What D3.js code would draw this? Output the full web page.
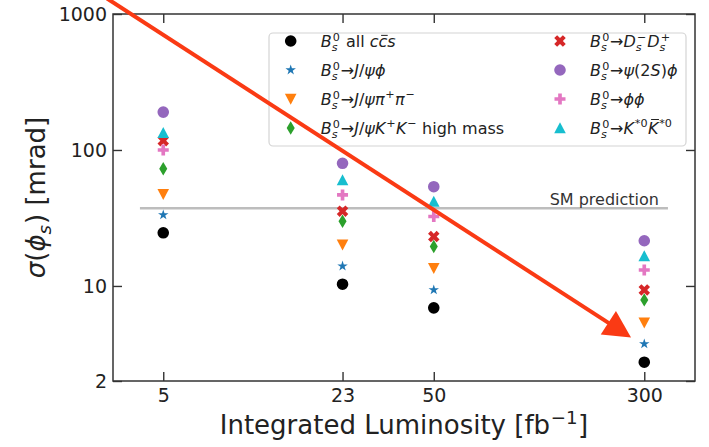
<!DOCTYPE html>
<html><head><meta charset="utf-8">
<script src="https://cdn.jsdelivr.net/npm/d3@7"></script>
<style>
body{margin:0;background:#fff}
svg{display:block;font-family:"DejaVu Sans",sans-serif}
svg text{white-space:pre}
</style>
</head><body>
<svg id="chart" width="709" height="447"></svg>
<script>
// ---------------- data ----------------
const luminosity = [5, 23, 50, 300];
const xTickLabels = ["5", "23", "50", "300"];
const yTickValues = [2, 10, 100, 1000];
const yTickLabels = ["2", "10", "100", "1000"];
const xDomain = [3.26, 462];
const yDomain = [2, 1000];

const allCcs     = [24.6, 10.3, 6.9, 2.75];
const jpsiPhi    = [33.3, 14.0, 9.35, 3.75];
const jpsiPiPi   = [47.2, 20.1, 13.5, 5.37];
const jpsiKKHigh = [72.8, 29.9, 19.5, 7.9];
const dsDs       = [117, 35.5, 23.1, 9.35];
const psi2SPhi   = [190, 79.8, 53.7, 21.5];
const phiPhi     = [100, 46.7, 32.4, 13.1];
const kstKst     = [134, 60.1, 41.7, 16.6];

const seriesValues = [allCcs, jpsiPhi, jpsiPiPi, jpsiKKHigh, dsDs, psi2SPhi, phiPhi, kstKst];

// legend labels as rich-text segments: [text, kind] / [sub, sup, "subsup"]
const Bs0 = [["B", "i"], ["s", "0", "subsup"]];
const seriesLabels = [
  [...Bs0, [" all ", "r"], ["c", "i"], ["c", "ib"], ["s", "i"]],
  [...Bs0, ["→", "r"], ["J", "i"], ["/", "r"], ["ψϕ", "i"]],
  [...Bs0, ["→", "r"], ["J", "i"], ["/", "r"], ["ψπ", "i"], ["+", "sup"], ["π", "i"], ["−", "sup"]],
  [...Bs0, ["→", "r"], ["J", "i"], ["/", "r"], ["ψK", "i"], ["+", "sup"], ["K", "i"], ["−", "sup"], [" high mass", "r"]],
  [...Bs0, ["→", "r"], ["D", "i"], ["s", "−", "subsup"], ["D", "i"], ["s", "+", "subsup"]],
  [...Bs0, ["→", "r"], ["ψ", "i"], ["(2", "r"], ["S", "i"], [")", "r"], ["ϕ", "i"]],
  [...Bs0, ["→", "r"], ["ϕϕ", "i"]],
  [...Bs0, ["→", "r"], ["K", "i"], ["*0", "sup"], ["K", "ib"], ["*0", "sup"]]
];

const smPrediction = 37.3;
const smRange = [4.1, 367];
const smLabel = "SM prediction";
const xAxisLabel = [["Integrated Luminosity [fb", "r"], ["−1", "sup"], ["]", "r"]];
const yAxisLabel = [["σ", "i"], ["(", "r"], ["ϕ", "i"], ["s", "sub"], [")", "r"], [" [mrad]", "r"]];

// annotation arrow (data coordinates)
const arrowFrom = [3.1, 1300];
const arrowTo = [268, 4.18];

// ---------------- styles ----------------
const colors = ["#000000", "#1f77b4", "#ff7f0e", "#2ca02c", "#d62728", "#9467bd", "#e377c2", "#17becf"];
const markerKinds = ["circle", "star", "triDown", "thinDiamond", "xFilled", "circle", "plusFilled", "triUp"];
const markerSizes = [11.6, 11, 11.6, 9.5, 12.2, 11.6, 11, 11.6];

// ---------------- marker shapes (matplotlib-like) ----------------
function polyType(points) {
  return { draw(ctx, size) {
    const s = Math.sqrt(size);
    points.forEach((p, i) => i ? ctx.lineTo(p[0] * s, p[1] * s) : ctx.moveTo(p[0] * s, p[1] * s));
    ctx.closePath();
  }};
}
const starPts = d3.range(10).map(i => {
  const r = i % 2 ? 0.5 * 0.381966 : 0.5;
  const a = -Math.PI / 2 + i * Math.PI / 5;
  return [r * Math.cos(a), r * Math.sin(a)];
});
const plusPts = [[-1,-3],[1,-3],[1,-1],[3,-1],[3,1],[1,1],[1,3],[-1,3],[-1,1],[-3,1],[-3,-1],[-1,-1]].map(p => [p[0] / 6, p[1] / 6]);
const c45 = Math.SQRT1_2;
const xPts = plusPts.map(p => [(p[0] - p[1]) * c45, (p[0] + p[1]) * c45]);
const shapeTypes = {
  circle: { draw(ctx, size) { const r = Math.sqrt(size) / 2; ctx.moveTo(r, 0); ctx.arc(0, 0, r, 0, 2 * Math.PI); } },
  star: polyType(starPts),
  triDown: polyType([[0, 0.5], [-0.5, -0.45], [0.5, -0.45]]),
  triUp: polyType([[0, -0.5], [-0.5, 0.45], [0.5, 0.45]]),
  thinDiamond: polyType([[0, -0.707], [0.424, 0], [0, 0.707], [-0.424, 0]]),
  xFilled: polyType(xPts),
  plusFilled: polyType(plusPts)
};
const sym = i => d3.symbol().type(shapeTypes[markerKinds[i]]).size(markerSizes[i] * markerSizes[i]);

// ---------------- layout ----------------
const svg = d3.select("#chart");
const M = { left: 113, right: 695, top: 14, bottom: 381 };
const x = d3.scaleLog().domain(xDomain).range([M.left, M.right]);
const y = d3.scaleLog().domain(yDomain).range([M.bottom, M.top]);
const textColor = "#222";

// rich text renderer
function rich(parent, segs, size) {
  const g = parent.append("g").attr("fill", textColor);
  const ss = size * 0.7;
  let cx = 0;
  const add = (txt, xx, yy, fs, italic) => g.append("text")
    .attr("xml:space", "preserve")
    .attr("x", xx).attr("y", yy).style("font-size", fs + "px")
    .style("font-style", italic ? "italic" : "normal").text(txt);
  segs.forEach(seg => {
    const kind = seg[seg.length - 1];
    if (kind === "r" || kind === "i") {
      cx += add(seg[0], cx, 0, size, kind === "i").node().getComputedTextLength();
    } else if (kind === "ib") {
      const w = add(seg[0], cx, 0, size, true).node().getComputedTextLength();
      const top = /[A-Z]/.test(seg[0]) ? -size * 0.8 : -size * 0.62;
      g.append("line").attr("x1", cx + w * 0.3).attr("x2", cx + w * 1.05)
        .attr("y1", top - 1.2).attr("y2", top - 1.2)
        .attr("stroke", textColor).attr("stroke-width", Math.max(1, size * 0.06));
      cx += w;
    } else if (kind === "sup") {
      cx += add(seg[0], cx + 0.8, -size * 0.38, ss, false).node().getComputedTextLength() + 1.2;
    } else if (kind === "sub") {
      cx += add(seg[0], cx, size * 0.22, ss, true).node().getComputedTextLength() + 1;
    } else if (kind === "subsup") {
      const w1 = add(seg[0], cx, size * 0.26, ss, true).node().getComputedTextLength();
      const w2 = add(seg[1], cx + 1.2, -size * 0.36, ss, false).node().getComputedTextLength() + 1.2;
      cx += Math.max(w1, w2) + 0.8;
    }
  });
  return { g, width: cx };
}

// axes (ticks inward on all sides)
const tickLen = 9;
const axBottom = svg.append("g").attr("transform", `translate(0,${M.bottom})`)
  .call(d3.axisBottom(x).tickValues(luminosity).tickFormat((d, i) => xTickLabels[i])
    .tickSizeInner(-tickLen).tickSizeOuter(0).tickPadding(7.5));
const axTop = svg.append("g").attr("transform", `translate(0,${M.top})`)
  .call(d3.axisTop(x).tickValues(luminosity).tickFormat(() => "").tickSizeInner(-tickLen).tickSizeOuter(0));
const axLeft = svg.append("g").attr("transform", `translate(${M.left},0)`)
  .call(d3.axisLeft(y).tickValues(yTickValues).tickFormat((d, i) => yTickLabels[i])
    .tickSizeInner(-tickLen).tickSizeOuter(0).tickPadding(6));
const axRight = svg.append("g").attr("transform", `translate(${M.right},0)`)
  .call(d3.axisRight(y).tickValues(yTickValues).tickFormat(() => "").tickSizeInner(-tickLen).tickSizeOuter(0));
[axBottom, axTop, axLeft, axRight].forEach(a => {
  a.select(".domain").remove();
  a.selectAll("line").attr("stroke", "#333").attr("stroke-width", 1.4);
  a.selectAll("text").attr("fill", textColor).style("font-size", "19px").style("font-family", "DejaVu Sans");
});

// frame
svg.append("rect").attr("x", M.left).attr("y", M.top)
  .attr("width", M.right - M.left).attr("height", M.bottom - M.top)
  .attr("fill", "none").attr("stroke", "#333").attr("stroke-width", 1.5);

// SM prediction line
svg.append("line")
  .attr("x1", x(smRange[0])).attr("x2", x(smRange[1]))
  .attr("y1", y(smPrediction)).attr("y2", y(smPrediction))
  .attr("stroke", "#bdbdbd").attr("stroke-width", 2.6);
svg.append("text").attr("x", x(smRange[1]) - 9).attr("y", y(smPrediction) - 3)
  .attr("text-anchor", "end").attr("fill", "#333").style("font-size", "16px").text(smLabel);

// points
seriesValues.forEach((vals, i) => {
  svg.append("g").selectAll("path").data(vals).join("path")
    .attr("transform", (d, j) => `translate(${x(luminosity[j])},${y(d)})`)
    .attr("d", sym(i)).attr("fill", colors[i]);
});

// legend
const leg = svg.append("g");
leg.append("rect").attr("x", 269).attr("y", 33).attr("width", 417).attr("height", 113)
  .attr("rx", 4).attr("fill", "#fff").attr("fill-opacity", 0.85)
  .attr("stroke", "#d4d4d4").attr("stroke-width", 1.2);
seriesLabels.forEach((lab, i) => {
  const col = Math.floor(i / 4), row = i % 4;
  const mx = col ? 560 : 290.7;
  const my = 41 + row * 29;
  leg.append("path").attr("transform", `translate(${mx},${my})`).attr("d", sym(i)).attr("fill", colors[i]);
  const r = rich(leg, lab, 16);
  r.g.attr("transform", `translate(${mx + 30},${my + 5.5})`);
});

// axis labels
const xl = rich(svg, xAxisLabel, 26);
xl.g.attr("transform", `translate(${(M.left + M.right) / 2 - xl.width / 2},434)`);
const yl = rich(svg, yAxisLabel, 26);
yl.g.attr("transform", `translate(45,${(M.top + M.bottom) / 2 + yl.width / 2}) rotate(-90)`);

// annotation arrow
const p0 = [x(arrowFrom[0]), y(arrowFrom[1])];
const p1 = [x(arrowTo[0]), y(arrowTo[1])];
const len = Math.hypot(p1[0] - p0[0], p1[1] - p0[1]);
const ux = (p1[0] - p0[0]) / len, uy = (p1[1] - p0[1]) / len;
const headL = 27, headW = 14;
const base = [p1[0] - ux * headL, p1[1] - uy * headL];
const arrowColor = "#fa3a14";
svg.append("line").attr("x1", p0[0]).attr("y1", p0[1])
  .attr("x2", base[0] + ux * 2).attr("y2", base[1] + uy * 2)
  .attr("stroke", arrowColor).attr("stroke-width", 4);
svg.append("path").attr("d", d3.line()([
  p1, [base[0] - uy * headW, base[1] + ux * headW], [base[0] + uy * headW, base[1] - ux * headW]
]) + "Z").attr("fill", arrowColor);
</script>
</body></html>
